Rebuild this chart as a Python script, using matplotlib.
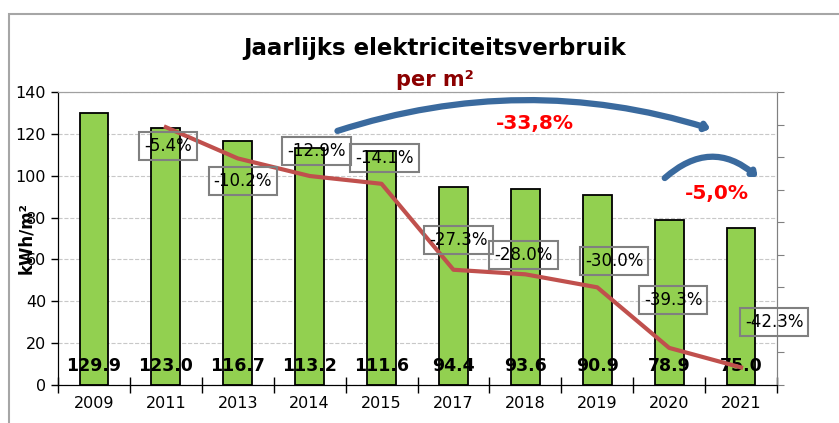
import numpy as np
import matplotlib.pyplot as plt
from matplotlib.patches import FancyArrowPatch, Rectangle

# data
jaren = ['2009', '2011', '2013', '2014', '2015', '2017', '2018', '2019', '2020', '2021']
verbruik = [129.9, 123.0, 116.7, 113.2, 111.6, 94.4, 93.6, 90.9, 78.9, 75.0]
# reductie t.o.v. 2009 (geen waarde voor 2009 zelf)
reductie = [np.nan, -5.4, -10.2, -12.9, -14.1, -27.3, -28.0, -30.0, -39.3, -42.3]

# label verschuivingen in pixels (handmatig geplaatst zoals in Excel)
label_offsets = [None, (2, -19), (5, -23), (7, 25), (3, 26), (5, 30),
                 (-2, 19), (17, 26), (4, 48), (33, 45)]

fig = plt.figure(figsize=(8.39, 4.23), dpi=100)
fig.patches.append(Rectangle((9 / 839, -0.1), 1.2, 1 - 14 / 423 + 0.1,
                             transform=fig.transFigure, fill=False,
                             ec='#a6a6a6', lw=1.5))

ax = fig.add_axes([58 / 839, 38 / 423, 719 / 839, 293 / 423])
x = np.arange(len(jaren))

ax.bar(x, verbruik, width=0.4, color='#92D050', edgecolor='black', linewidth=1.3, zorder=2)
for xi, v in zip(x, verbruik):
    ax.text(xi, 9, f'{v:.1f}', ha='center', va='center', fontsize=12.5,
            fontweight='bold', zorder=5)

ax.set_xlim(-0.5, len(jaren) - 0.5)
ax.set_ylim(0, 140)
ax.set_yticks(np.arange(0, 141, 20))
ax.yaxis.grid(True, linestyle='--', color='#c8c8c8', linewidth=0.8)
ax.set_axisbelow(True)
ax.set_xticks(x)
ax.set_xticklabels(jaren, fontsize=11.5)
ax.set_xticks(np.arange(-0.5, len(jaren), 1), minor=True)
ax.tick_params(axis='x', which='major', length=0, pad=8)
ax.tick_params(axis='x', which='minor', length=11, direction='inout', width=1)
ax.tick_params(axis='y', labelsize=11.5, length=5, width=1)
ax.set_ylabel('kWh/m²', fontsize=12, fontweight='bold', labelpad=-14)
ax.spines['top'].set_color('#a0a0a0')
ax.spines['right'].set_color('#a0a0a0')

# secundaire as voor de reductie
ax2 = ax.twinx()
ax2.plot(x, reductie, color='#C0504D', linewidth=3, zorder=3)
ax2.set_ylim(-45, 0)
ax2.set_yticks(np.arange(-45, 1, 5))
ax2.tick_params(axis='y', labelright=False, length=5, color='#808080')
ax2.spines['right'].set_color('#808080')
ax2.spines['top'].set_color('#a0a0a0')

for xi, r, off in zip(x, reductie, label_offsets):
    if off is None:
        continue
    ax2.annotate(f'{r:.1f}%', (xi, r), xytext=off, textcoords='offset pixels',
                 ha='center', va='center', fontsize=12, zorder=6,
                 bbox=dict(boxstyle='square,pad=0.3', fc='none', ec='#808080', lw=1.5))

# titel
fig.text(435 / 839, 1 - 48 / 423, 'Jaarlijks elektriciteitsverbruik', ha='center',
         va='center', fontsize=16.5, fontweight='bold')
fig.text(435 / 839, 1 - 80 / 423, 'per m²', ha='center', va='center',
         fontsize=15, fontweight='bold', color='#8B0000')

# bogen met totale reductie
boog1 = FancyArrowPatch((3.35, 121.0), (8.61, 122), connectionstyle='arc3,rad=-0.16',
                        arrowstyle='-|>,head_length=0.12,head_width=0.1',
                        color='#3A6A9E', lw=4.5, zorder=4, mutation_scale=20)
ax.add_patch(boog1)
boog2 = FancyArrowPatch((7.91, 98.0), (9.26, 98.5), connectionstyle='arc3,rad=-0.45',
                        arrowstyle='-|>,head_length=0.12,head_width=0.1',
                        color='#3A6A9E', lw=4.5, zorder=4, mutation_scale=20)
ax.add_patch(boog2)
ax.text(6.13, 125, '-33,8%', ha='center', va='center', fontsize=14.5,
        fontweight='bold', color='red')
ax.text(8.67, 91.6, '-5,0%', ha='center', va='center', fontsize=14.5,
        fontweight='bold', color='red')

fig.savefig('out.png', dpi=100)
